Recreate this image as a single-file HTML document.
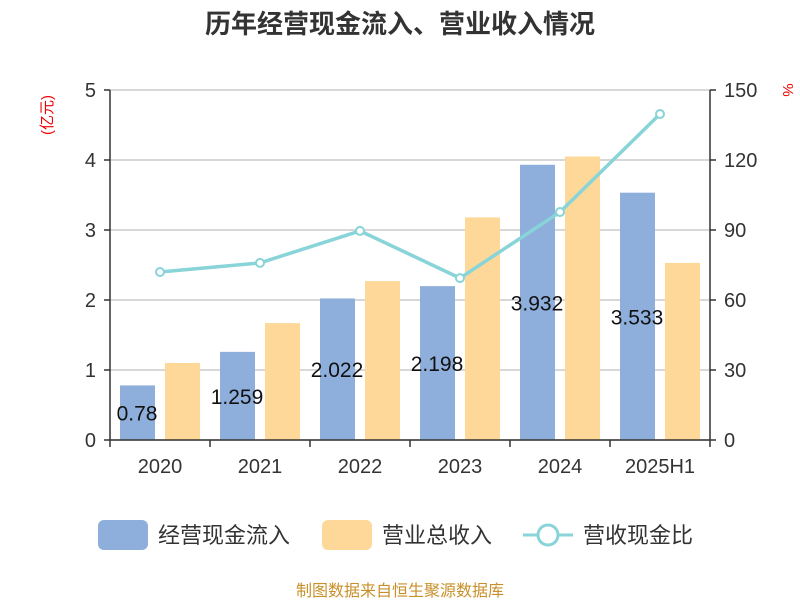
<!DOCTYPE html>
<html><head><meta charset="utf-8"><style>
body{margin:0;background:#fff;}
svg text{font-family:"Liberation Sans","Noto Sans CJK SC",sans-serif;}
</style></head><body>
<svg id="chart" width="800" height="600" xmlns="http://www.w3.org/2000/svg">
<text x="400" y="33" text-anchor="middle" font-size="26" font-weight="bold" fill="#333">历年经营现金流入、营业收入情况</text>
<text transform="translate(52,115) rotate(-90)" text-anchor="middle" font-size="15" fill="#e00">(亿元)</text>
<text transform="translate(783,90) rotate(90)" text-anchor="middle" font-size="15" fill="#e00">%</text>
<g id="grid"></g><g id="bars"></g><g id="line"></g><g id="axes"></g><g id="labels"></g>
<g>
<rect x="98" y="520" width="50" height="30" rx="6" fill="#8eaedb"/>
<text x="158" y="543" font-size="22" fill="#333">经营现金流入</text>
<rect x="322" y="520" width="50" height="30" rx="6" fill="#fdd899"/>
<text x="382" y="543" font-size="22" fill="#333">营业总收入</text>
<line x1="523" y1="535" x2="573" y2="535" stroke="#88d4d8" stroke-width="3"/>
<circle cx="548" cy="535" r="10" fill="#fff" stroke="#88d4d8" stroke-width="3"/>
<text x="583" y="543" font-size="22" fill="#333">营收现金比</text>
</g>
<text x="400" y="596" text-anchor="middle" font-size="16" fill="#c8902a">制图数据来自恒生聚源数据库</text>
</svg>
<script>
const categories=["2020","2021","2022","2023","2024","2025H1"];
const cashInflow=[0.78,1.259,2.022,2.198,3.932,3.533];
const revenue=[1.1,1.67,2.27,3.18,4.05,2.53];
const ratio=[72,75.9,89.6,69.4,97.7,139.7];
const leftTicks=[0,1,2,3,4,5];
const rightTicks=[0,30,60,90,120,150];
const NS="http://www.w3.org/2000/svg";
const L=110,R=710,T=90,B=440;
const bw=(R-L)/categories.length;
const yL=v=>B-(v/5)*(B-T);
const yR=v=>B-(v/150)*(B-T);
const xC=i=>L+bw*(i+0.5);
function mk(tag,attrs,parent,text){const e=document.createElementNS(NS,tag);for(const k in attrs)e.setAttribute(k,attrs[k]);if(text!==undefined)e.textContent=text;document.getElementById(parent).appendChild(e);return e;}
leftTicks.forEach((t,i)=>{
 const g=mk("line",{x1:L,x2:R,y1:yL(t),y2:yL(t),stroke:"#ccc","stroke-width":1.5},"grid");
 
 
 const tk=mk("line",{x1:L-6,x2:L,y1:yL(t),y2:yL(t),stroke:"#333","stroke-width":1.5},"axes");
 
 
 const tl=mk("text",{x:L-14,y:yL(t)+7,"text-anchor":"end","font-size":20,fill:"#333"},"axes",t);
 
 
});
rightTicks.forEach(t=>{
 const tk=mk("line",{x1:R,x2:R+6,y1:yR(t),y2:yR(t),stroke:"#333","stroke-width":1.5},"axes");
 
 
 const tl=mk("text",{x:R+14,y:yR(t)+7,"text-anchor":"start","font-size":20,fill:"#333"},"axes",t);
 
 
});
const la=mk("line",{x1:L,x2:L,y1:T,y2:B,stroke:"#333","stroke-width":1.5},"axes");


const ra=mk("line",{x1:R,x2:R,y1:T,y2:B,stroke:"#333","stroke-width":1.5},"axes");


const ba=mk("line",{x1:L,x2:R,y1:B,y2:B,stroke:"#333","stroke-width":1.5},"axes");


for(let i=0;i<=categories.length;i++){
 const tk=mk("line",{x1:L+bw*i,x2:L+bw*i,y1:B,y2:B+7,stroke:"#333","stroke-width":1.5},"axes");
 
 
}
categories.forEach((c,i)=>{
 const tl=mk("text",{x:xC(i),y:B+33,"text-anchor":"middle","font-size":20,fill:"#333"},"axes",c);
 
 
 const b1=mk("rect",{x:xC(i)-40,y:yL(cashInflow[i]),width:35,height:B-yL(cashInflow[i]),fill:"#8eaedb"},"bars");
 
 
 const b2=mk("rect",{x:xC(i)+5,y:yL(revenue[i]),width:35,height:B-yL(revenue[i]),fill:"#fdd899"},"bars");
 
 
 const lb=mk("text",{x:xC(i)-23,y:(yL(cashInflow[i])+B)/2+8,"text-anchor":"middle","font-size":21,fill:"#111"},"labels",cashInflow[i]);
 
 
});
const pts=ratio.map((v,i)=>xC(i)+","+yR(v)).join(" ");
const pl=mk("polyline",{points:pts,fill:"none",stroke:"#88d4d8","stroke-width":3.5},"line");


ratio.forEach((v,i)=>{
 const p=mk("circle",{cx:xC(i),cy:yR(v),r:4,fill:"#fff",stroke:"#88d4d8","stroke-width":2},"line");
 
 
});
</script>
</body></html>
